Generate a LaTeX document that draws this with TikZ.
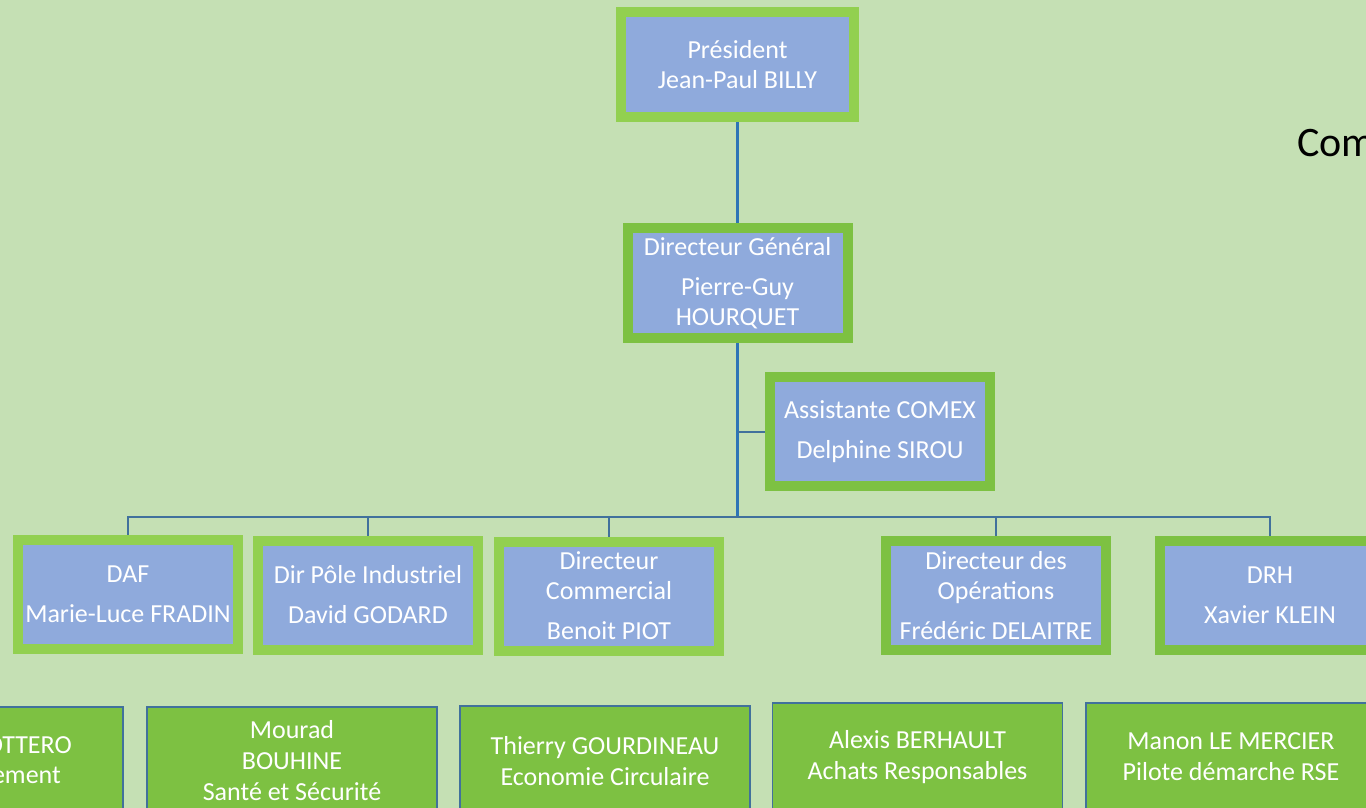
\documentclass[tikz,border=0pt]{standalone}
\usepackage{fontspec}
\setmainfont{Carlito}
\definecolor{bgcol}{HTML}{C5E0B4}
\definecolor{boxblue}{HTML}{8FAADC}
\definecolor{lightgreen}{HTML}{92D050}
\definecolor{darkgreen}{HTML}{7DC142}
\definecolor{trunkblue}{HTML}{2E75B6}
\definecolor{busblue}{HTML}{41719C}
\tikzset{
  person/.style={draw=lightgreen, line width=10pt, fill=boxblue, text=white,
    align=center, inner sep=0pt, font=\fontsize{26}{30}\selectfont,
    minimum width=220pt, minimum height=109pt},
  persondark/.style={person, draw=darkgreen},
  member/.style={draw=busblue, line width=1.5pt, fill=darkgreen, text=white,
    align=center, inner sep=0pt, font=\fontsize{26}{31}\selectfont,
    minimum width=290pt, minimum height=108pt},
  trunk/.style={draw=trunkblue, line width=3pt},
  busline/.style={draw=busblue, line width=2pt},
}
\begin{document}
\begin{tikzpicture}[x=1pt, y=-1pt]
  \useasboundingbox (0,0) rectangle (1366,808);
  \fill[bgcol] (0,0) rectangle (1366,808);

  % direction
  \node[person, minimum width=233pt, minimum height=105pt] (pres) at (737.5,64.5) {Président\\Jean-Paul BILLY};
  \node[persondark, minimum height=110pt] (dg) at (737.5,283) {Directeur Général\\[10pt]Pierre-Guy\\HOURQUET};
  \node[persondark] (asst) at (880,431.5) {Assistante COMEX\\[10pt]Delphine SIROU};

  % comex
  \node[person] (daf) at (128,594.5) {DAF\\[10pt]Marie-Luce FRADIN};
  \node[person] (pole) at (368,595) {Dir Pôle Industriel\\[10pt]David GODARD};
  \node[person] (com) at (609,596) {Directeur\\Commercial\\[10pt]Benoit PIOT};
  \node[persondark] (ops) at (996,595.5) {Directeur des\\Opérations\\[10pt]Frédéric DELAITRE};
  \node[persondark] (drh) at (1270,595.5) {DRH\\[10pt]Xavier KLEIN};

  % rse
  \node[member, anchor=north] (rse1) at (-22,706) {};
  \node[text=white, font=\fontsize{26}{31}\selectfont, anchor=base east, inner sep=0pt] (rse1a) at (72,753) {OTTERO};
  \node[text=white, font=\fontsize{26}{31}\selectfont, anchor=base east, inner sep=0pt] (rse1b) at (61,783) {ement};
  \node[member, anchor=north] (rse2) at (292,706) {Mourad\\BOUHINE\\Santé et Sécurité};
  \node[member, anchor=north, minimum height=110pt] (rse3) at (605,705) {Thierry GOURDINEAU\\Economie Circulaire};
  \node[member, anchor=north] (rse4) at (917.5,702) {Alexis BERHAULT\\Achats Responsables};
  \node[member, anchor=north] (rse5) at (1231,702) {Manon LE MERCIER\\Pilote démarche RSE};

  \node[anchor=west, inner sep=0pt, font=\fontsize{42}{50}\selectfont] (titre) at (1297,143) {Com};

  % liaisons
  \coordinate (bus) at (737.5,517);
  \draw[trunk] (pres.south) -- (dg.north);
  \draw[trunk] (dg.south) -- (bus);
  \draw[busline] (dg.south |- asst.west) -- (asst.west);
  \foreach \n in {daf,pole,com,ops,drh}
    \draw[busline] (bus) -| (\n.north);
\end{tikzpicture}
\end{document}
